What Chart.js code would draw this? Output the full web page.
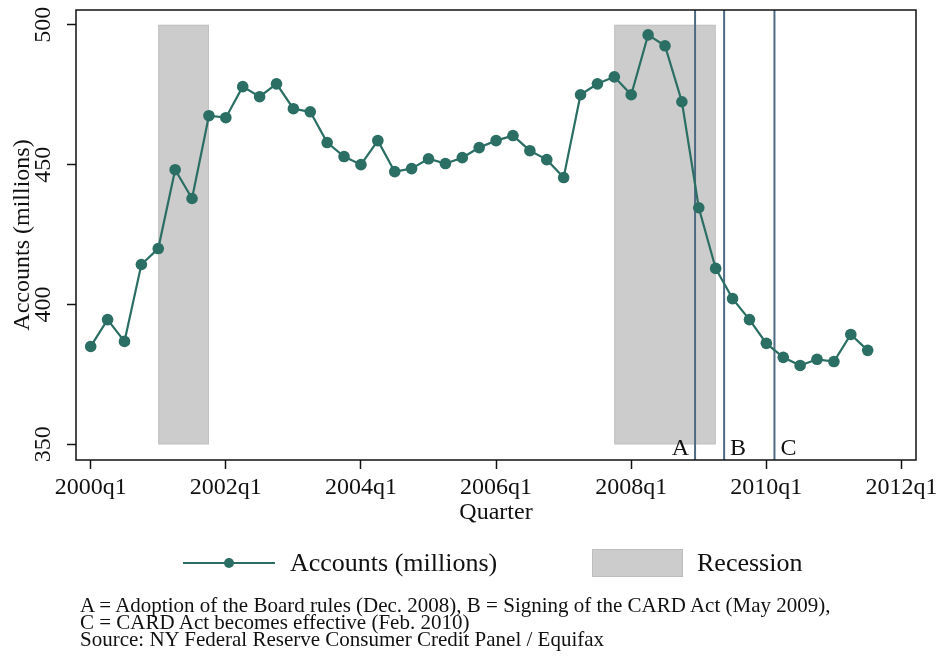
<!DOCTYPE html>
<html>
<head>
<meta charset="utf-8">
<script src="https://cdn.jsdelivr.net/npm/chart.js@4.4.1/dist/chart.umd.min.js"></script>
<style>
  body { margin: 0; background: #fff; font-family: "Liberation Serif", serif; }
  #wrap { position: relative; width: 941px; height: 658px; }
  #chart { position: absolute; left: 0; top: 0; }
  .leg { position: absolute; font-size: 26px; color: #111; line-height: 28px; }
  .notes { position: absolute; left: 80px; top: 597px; font-size: 21px; line-height: 17px; color: #111; white-space: nowrap; }
</style>
</head>
<body>
<div id="wrap">
  <canvas id="chart" width="941" height="658"></canvas>
  <div style="position:absolute;left:183px;top:562px;width:92px;height:2px;background:#2a6e64"></div>
  <div style="position:absolute;left:224px;top:558px;width:10px;height:10px;border-radius:50%;background:#2a6e64"></div>
  <div class="leg" style="left:290px;top:549px">Accounts (millions)</div>
  <div style="position:absolute;left:592px;top:549px;width:89px;height:26px;background:#cccccc;border:1px solid #bdbdbd"></div>
  <div class="leg" style="left:697px;top:549px">Recession</div>
  <div class="notes">A = Adoption of the Board rules (Dec. 2008), B = Signing of the CARD Act (May 2009),<br>C = CARD Act becomes effective (Feb. 2010)<br>Source: NY Federal Reserve Consumer Credit Panel / Equifax</div>
</div>
<script>
// credit card accounts, quarterly

const quarters = [
  '2000q1','2000q2','2000q3','2000q4','2001q1','2001q2','2001q3','2001q4',
  '2002q1','2002q2','2002q3','2002q4','2003q1','2003q2','2003q3','2003q4',
  '2004q1','2004q2','2004q3','2004q4','2005q1','2005q2','2005q3','2005q4',
  '2006q1','2006q2','2006q3','2006q4','2007q1','2007q2','2007q3','2007q4',
  '2008q1','2008q2','2008q3','2008q4','2009q1','2009q2','2009q3','2009q4',
  '2010q1','2010q2','2010q3','2010q4','2011q1','2011q2','2011q3'
];
const accounts = [
  385.0, 394.6, 386.8, 414.3, 420.0, 448.2, 437.9, 467.5,
  466.8, 477.9, 474.3, 478.9, 470.0, 468.9, 457.9, 452.9,
  450.0, 458.6, 447.5, 448.6, 452.1, 450.4, 452.5, 456.1,
  458.6, 460.4, 455.0, 451.8, 445.4, 475.0, 478.9, 481.4,
  475.0, 496.4, 492.5, 472.5, 434.6, 412.9, 402.1, 394.6,
  386.1, 381.1, 378.2, 380.4, 379.6, 389.3, 383.6
];
const xTicks = ['2000q1','2002q1','2004q1','2006q1','2008q1','2010q1','2012q1'];
const yTicks = [350, 400, 450, 500];
const recessions = [['2001q1', '2001q4'], ['2007q4', '2009q2']];
const eventNames = ['A', 'B', 'C'];
const eventPos = [35.78, 37.5, 40.48]; // quarters after 2000q1

// quarter label -> index from 2000q1
function qIndex(label) {
  const year = parseInt(label.slice(0, 4));
  const q = parseInt(label.slice(5));
  return (year - 2000) * 4 + q - 1;
}

const green = '#2a6e64';
const blue = '#4d6b85';
const font = { family: 'Liberation Serif', size: 24 };

// recession shading, event lines, frame
const overlay = {
  id: 'overlay',
  beforeDatasetsDraw(chart) {
    const ctx = chart.ctx;
    const x = chart.scales.x, y = chart.scales.y;
    const top = y.getPixelForValue(500), bot = y.getPixelForValue(350);
    ctx.save();
    recessions.forEach(function(r) {
      const x0 = x.getPixelForValue(qIndex(r[0]));
      const x1 = x.getPixelForValue(qIndex(r[1]));
      ctx.fillStyle = '#cccccc';
      ctx.fillRect(x0, top, x1 - x0, bot - top);
      ctx.strokeStyle = '#c2c2c2';
      ctx.lineWidth = 1;
      ctx.strokeRect(x0 + 0.5, top + 0.5, x1 - x0 - 1, bot - top - 1);
    });
    const area = chart.chartArea;
    ctx.strokeStyle = blue;
    ctx.lineWidth = 2;
    ctx.font = '24px "Liberation Serif"';
    ctx.fillStyle = '#111';
    ctx.textBaseline = 'alphabetic';
    eventPos.forEach(function(p, i) {
      const px = x.getPixelForValue(p);
      ctx.beginPath();
      ctx.moveTo(px, area.top);
      ctx.lineTo(px, area.bottom);
      ctx.stroke();
      if (i === 0) {
        ctx.textAlign = 'right';
        ctx.fillText(eventNames[i], px - 6, area.bottom - 5);
      } else {
        ctx.textAlign = 'left';
        ctx.fillText(eventNames[i], px + 6, area.bottom - 5);
      }
    });
    ctx.restore();
  },
  afterDraw(chart) {
    const ctx = chart.ctx, a = chart.chartArea;
    ctx.save();
    ctx.strokeStyle = '#111';
    ctx.lineWidth = 1.5;
    ctx.strokeRect(a.left, a.top, a.right - a.left, a.bottom - a.top);
    ctx.restore();
  }
};

new Chart(document.getElementById('chart'), {
  type: 'line',
  data: {
    datasets: [{
      label: 'Accounts (millions)',
      data: accounts.map((v, i) => ({ x: qIndex(quarters[i]), y: v })),
      borderColor: green,
      backgroundColor: green,
      borderWidth: 2.2,
      pointRadius: 5.8,
      pointHoverRadius: 5.8,
      pointBorderWidth: 0,
      tension: 0
    }]
  },
  options: {
    responsive: false,
    devicePixelRatio: 1,
    animation: false,
    layout: { padding: { top: 10, right: 25, bottom: 128, left: 0 } },
    plugins: { legend: { display: false }, tooltip: { enabled: false } },
    scales: {
      x: {
        type: 'linear',
        min: -0.87,
        max: 48.86,
        afterBuildTicks: s => { s.ticks = xTicks.map(t => ({ value: qIndex(t) })); },
        afterFit: s => { s.height = 70; s.paddingLeft = 0; s.paddingRight = 0; },
        grid: { drawOnChartArea: false, drawTicks: true, tickLength: 9, color: '#111', tickWidth: 1.5 },
        border: { display: false },
        ticks: {
          font: font, color: '#111', padding: 4, maxRotation: 0, autoSkip: false,
          callback: v => xTicks.find(t => qIndex(t) === v)
        },
        title: { display: true, text: 'Quarter', font: font, color: '#111', padding: { top: 0, bottom: 3 } }
      },
      y: {
        min: 344.4,
        max: 505.3,
        afterBuildTicks: s => { s.ticks = yTicks.map(v => ({ value: v })); },
        afterFit: s => { s.width = 76; s.paddingTop = 0; s.paddingBottom = 0; },
        grid: { drawOnChartArea: false, drawTicks: true, tickLength: 9, color: '#111', tickWidth: 1.5 },
        border: { display: false },
        ticks: { font: font, color: '#111', padding: 5, minRotation: 90, maxRotation: 90, crossAlign: 'center' },
        title: { display: true, text: 'Accounts (millions)', font: font, color: '#111', padding: { top: 8, bottom: 0 } }
      }
    }
  },
  plugins: [overlay]
});
</script>
</body>
</html>
